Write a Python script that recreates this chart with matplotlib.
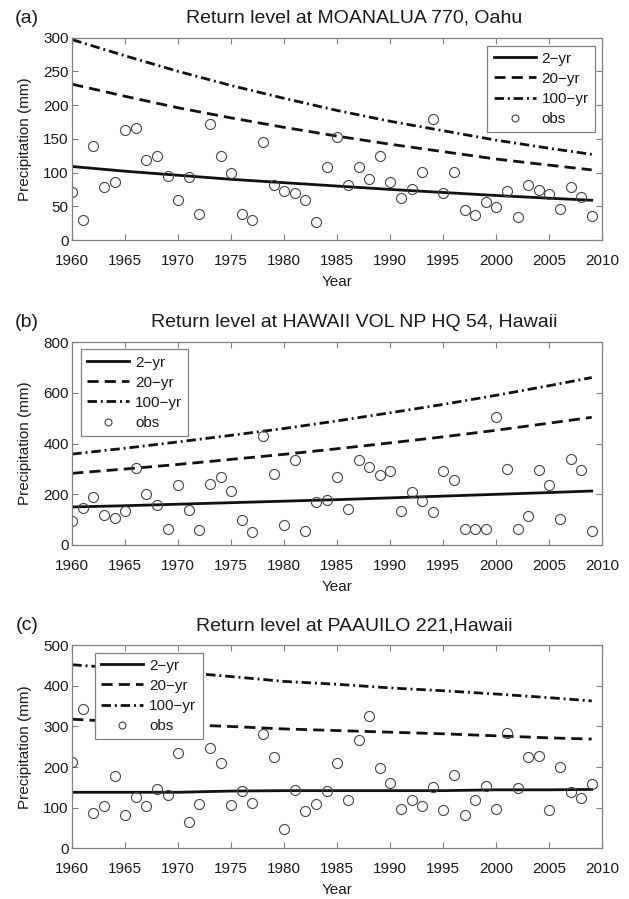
import numpy as np
import matplotlib
matplotlib.use('Agg')
import matplotlib.pyplot as plt

plt.rc('font', family=['Liberation Sans', 'DejaVu Sans'], size=11)
plt.close('all')

#%% datos

years = np.arange(1960, 2010)
fit_years = [1960, 1965, 1970, 1975, 1980, 1985, 1990, 1995, 2000, 2005, 2009]

# (a) MOANALUA 770, Oahu
obs_a = [71, 29, 140, 78, 86, 163, 166, 119, 124, 95, 59, 94, 39, 172, 124, 100,
         39, 29, 145, 81, 73, 70, 59, 26, 109, 153, 81, 109, 91, 124, 86, 62, 76,
         101, 180, 69, 101, 45, 37, 56, 49, 73, 34, 81, 74, 68, 46, 78, 64, 35]
a_2yr = [109, 102, 96, 90, 85, 80, 75, 70.5, 66, 62, 59]
a_20yr = [231, 213, 196, 181, 167, 154, 142, 131, 120, 111, 104]
a_100yr = [297, 273, 250, 229, 210, 192, 176, 162, 148, 136, 127]

# (b) HAWAII VOL NP HQ 54, Hawaii
obs_b = [96, 147, 191, 118, 105, 133, 305, 200, 157, 64, 237, 140, 60, 241, 270,
         212, 99, 53, 432, 279, 78, 336, 57, 170, 179, 267, 141, 336, 309, 276,
         292, 133, 209, 175, 129, 292, 258, 64, 64, 62, 507, 301, 62, 116, 297,
         237, 103, 340, 297, 57]
b_2yr = [150, 155, 161, 167, 173, 179, 186, 193, 200, 207, 213]
b_20yr = [283, 300, 318, 338, 358, 380, 403, 427, 453, 481, 504]
b_100yr = [359, 382, 407, 433, 460, 490, 522, 555, 591, 629, 661]

# (c) PAAUILO 221, Hawaii
obs_c = [213, 343, 86, 104, 177, 83, 126, 104, 146, 131, 235, 65, 109, 248, 209,
         107, 141, 112, 282, 224, 47, 143, 92, 108, 141, 209, 120, 267, 327, 199,
         162, 96, 118, 104, 151, 94, 180, 83, 120, 154, 96, 285, 148, 225, 227,
         94, 201, 138, 125, 159]
c_2yr = [138, 138, 138, 141, 142, 142, 142, 142, 144, 144, 145]
c_20yr = [318, 311, 305, 300, 294, 290, 286, 282, 277, 272, 269]
c_100yr = [452, 443, 434, 423, 411, 404, 395, 388, 380, 371, 363]

PANELS = [
    ('(a)', 'Return level at MOANALUA 770, Oahu', obs_a, a_2yr, a_20yr, a_100yr,
     300, 50, 'upper right', (0.986, 0.961)),
    ('(b)', 'Return level at HAWAII VOL NP HQ 54, Hawaii', obs_b, b_2yr, b_20yr, b_100yr,
     800, 200, 'upper left', (0.016, 0.965)),
    ('(c)', 'Return level at PAAUILO 221,Hawaii', obs_c, c_2yr, c_20yr, c_100yr,
     500, 100, 'upper left', (0.043, 0.964)),
]

# posicion de los ejes en fraccion de figura [left, bottom, width, height]
AX_POS = [[0.1149, 0.7330, 0.8427, 0.2251],
          [0.1149, 0.3938, 0.8427, 0.2254],
          [0.1149, 0.0564, 0.8427, 0.2258]]

GRAY = '#808080'
TXT = '#1a1a1a'
FS = 11

#%% figura

fig = plt.figure(figsize=(6.29, 8.99), dpi=100)

for pos, (tag, title, obs, r2, r20, r100, ymax, ystep, loc, anchor) in zip(AX_POS, PANELS):
    ax = fig.add_axes(pos)
    ax.plot(fit_years, r2, color='#111111', lw=2.0, label='2\u2212yr')
    ax.plot(fit_years, r20, color='#111111', lw=2.0, ls=(0, (4, 2.2)), label='20\u2212yr')
    ax.plot(fit_years, r100, color='#111111', lw=2.0, ls=(0, (3.4, 1.4, 0.7, 1.4)), label='100\u2212yr')
    ax.plot(years, obs, 'o', mfc='none', mec='#444444', mew=0.8, ms=7.2, label='obs')

    ax.set_xlim(1960, 2010)
    ax.set_ylim(0, ymax)
    ax.set_xticks(np.arange(1960, 2011, 5))
    ax.set_yticks(np.arange(0, ymax + 1, ystep))
    ax.tick_params(direction='in', length=4, width=0.8, color=GRAY, top=True, right=True,
                   labelsize=FS, labelcolor=TXT)
    ax.tick_params(axis='x', pad=10)
    ax.tick_params(axis='y', pad=2.5)
    for sp in ax.spines.values():
        sp.set_color(GRAY)
        sp.set_linewidth(0.9)

    ax.set_xlabel('Year', fontsize=FS, color=TXT, va='center')
    ax.xaxis.set_label_coords(0.5, -0.205)
    ax.set_ylabel('Precipitation (mm)', fontsize=FS, color=TXT, va='center')
    ax.yaxis.set_label_coords(-0.090, 0.5)

    ax.text(0.5315, 1.096, title, transform=ax.transAxes, ha='center', va='center',
            fontsize=14, color=TXT)
    ax.text(-0.0855, 1.096, tag, transform=ax.transAxes, ha='center', va='center',
            fontsize=14, color=TXT)

    leg = ax.legend(loc=loc, bbox_to_anchor=anchor, borderaxespad=0, fancybox=False,
                    framealpha=1, edgecolor=GRAY, fontsize=FS, handlelength=2.75,
                    handletextpad=0.4, labelspacing=0.4, borderpad=0.4)
    leg.get_frame().set_linewidth(0.9)
    leg.set_zorder(5)
    leg.legend_handles[3].set_markersize(5)
    for t in leg.get_texts():
        t.set_color(TXT)

plt.savefig('out.png', dpi=100)
